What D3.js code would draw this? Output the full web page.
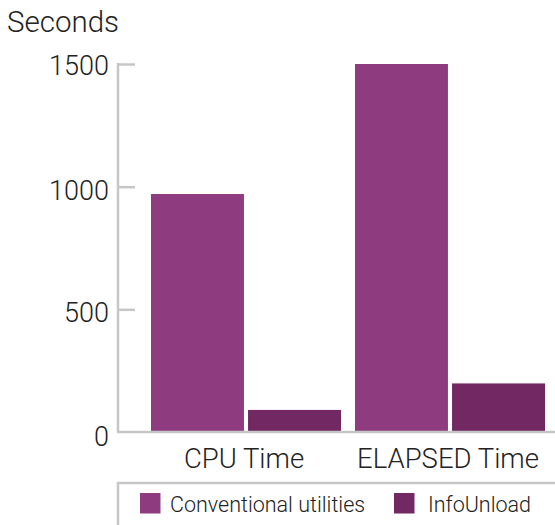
<!DOCTYPE html>
<html>
<head>
<meta charset="utf-8">
<script src="https://cdn.jsdelivr.net/npm/d3@7"></script>
<style>
  html, body { margin: 0; padding: 0; background: #fff; }
  svg { display: block; }
  text { font-family: "Roboto", "Liberation Sans", sans-serif; font-weight: 300; fill: #222; }
</style>
</head>
<body>
<svg id="chart" width="555" height="525"></svg>
<script>
const categories = ["CPU Time", "ELAPSED Time"];
const seriesNames = ["Conventional utilities", "InfoUnload"];
const conventional = [970, 1500];
const infoUnload = [90, 198];
const yTicks = [0, 500, 1000, 1500];
const colors = ["#8e3c7f", "#722963"];

const svg = d3.select("#chart");
const W = 555, H = 525;

const y = d3.scaleLinear().domain([0, 1500]).range([432, 64]);
const x0 = d3.scaleBand().domain(categories).range([144, 552]).padding(0);
const x1 = d3.scaleBand().domain(seriesNames).range([7, 197]).paddingInner(0.042);

const data = categories.map((c, i) => ({ cat: c, values: [conventional[i], infoUnload[i]] }));

// bars
const g = svg.append("g");
g.selectAll("g.grp").data(data).join("g")
  .attr("transform", d => `translate(${x0(d.cat)},0)`)
  .selectAll("rect").data(d => d.values.map((v, j) => ({ v, s: seriesNames[j], j })))
  .join("rect")
  .attr("x", d => x1(d.s))
  .attr("width", x1.bandwidth())
  .attr("y", d => y(d.v))
  .attr("height", d => y(0) - y(d.v))
  .attr("fill", d => colors[d.j]);

// y axis
const yAxis = d3.axisRight(y).tickValues(yTicks.filter(t => t > 0)).tickSize(17).tickFormat("");
const ya = svg.append("g").attr("transform", "translate(118,0)").call(yAxis);
ya.select(".domain").remove();
ya.selectAll(".tick line").attr("stroke", "#c6c6c6").attr("stroke-width", 2.5);
svg.append("line").attr("x1", 118).attr("x2", 118).attr("y1", y(1500) - 1).attr("y2", y(0))
  .attr("stroke", "#c6c6c6").attr("stroke-width", 2.5);

// y tick labels
svg.selectAll("text.ylab").data(yTicks).join("text")
  .attr("class", "ylab")
  .attr("x", 109).attr("y", d => y(d) + 11 + (d === 0 ? 3 : d === 1500 ? 0 : 2))
  .attr("text-anchor", "end")
  .style("font-size", "27px")
  .text(d => d);

// x axis baseline
svg.append("line").attr("x1", 117).attr("x2", W).attr("y1", y(0)).attr("y2", y(0))
  .attr("stroke", "#c6c6c6").attr("stroke-width", 2.5);

// x labels
svg.selectAll("text.xlab").data(categories).join("text")
  .attr("class", "xlab")
  .attr("x", d => x0(d) + x0.bandwidth() / 2 - 2)
  .attr("y", 468)
  .attr("text-anchor", "middle")
  .style("font-size", "27.5px")
  .text(d => d);

// axis title
svg.append("text").attr("x", 7).attr("y", 32).style("font-size", "29.5px").text("Seconds");

// legend
svg.append("rect").attr("x", 118).attr("y", 483).attr("width", W).attr("height", 60)
  .attr("fill", "none").attr("stroke", "#c6c6c6").attr("stroke-width", 2.5);
const legX = [140, 394];
const lg = svg.selectAll("g.leg").data(seriesNames).join("g")
  .attr("transform", (d, i) => `translate(${legX[i]},493)`);
lg.append("rect").attr("width", 20.5).attr("height", 20.5).attr("fill", (d, i) => colors[i]);
lg.append("text").attr("x", (d, i) => i === 0 ? 30 : 34).attr("y", 18.5).style("font-size", "21.5px").text(d => d);
</script>
</body>
</html>
